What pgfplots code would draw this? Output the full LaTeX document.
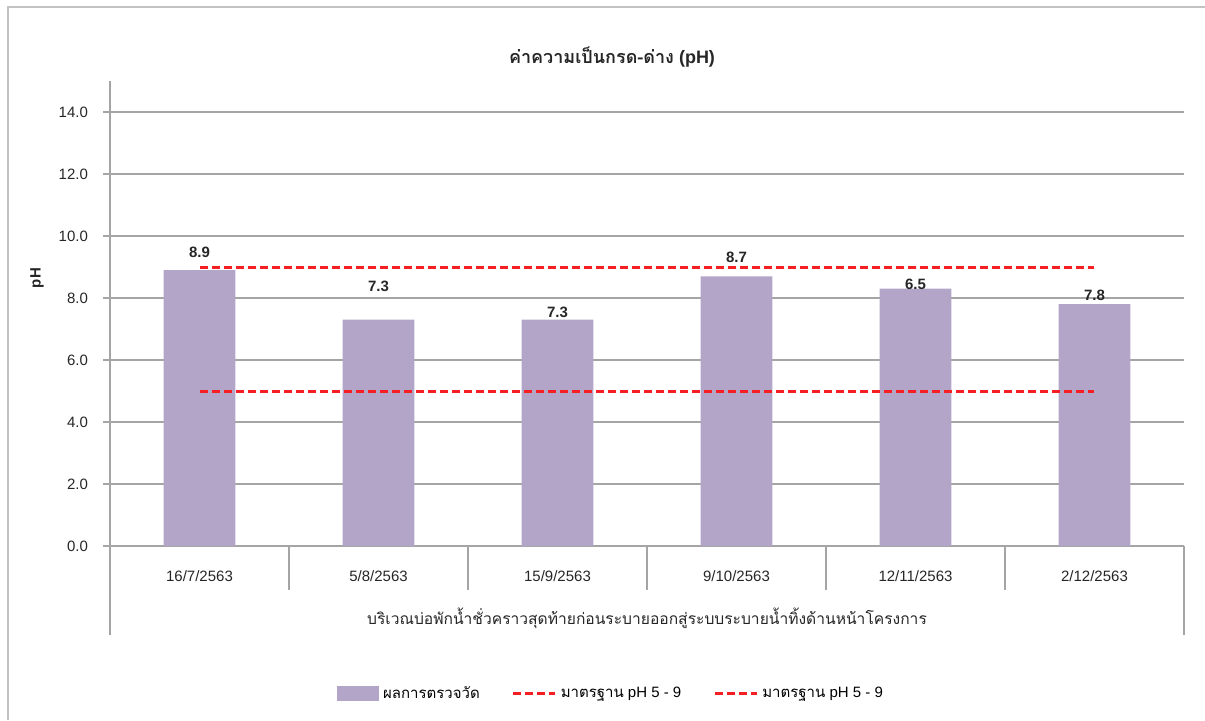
\documentclass[border=0pt]{standalone}
\usepackage{fontspec}
\setmainfont{Liberation Sans}
\newfontfamily\thai[Script=Thai]{Loma}
\usepackage{pgfplots}
\pgfplotsset{compat=1.18}

\definecolor{barcol}{RGB}{179,165,200}
\definecolor{stdred}{RGB}{245,30,35}
\definecolor{gridcol}{RGB}{165,165,165}
\definecolor{framecol}{RGB}{195,195,195}

\tikzset{stdline/.style={stdred, line width=1.5pt, dash pattern=on 4pt off 2pt}}

\begin{document}
\begin{tikzpicture}
% page = 1205 x 720 px, 0.5pt per px
\useasboundingbox (0,0) rectangle (602.5pt,360pt);
\draw[framecol, line width=1pt] (4pt,0) -- (4pt,356.5pt) -- (603pt,356.5pt);

\begin{axis}[
  at={(55pt,87pt)}, anchor=south west,
  scale only axis, width=537pt, height=232.5pt,
  xmin=-0.5, xmax=5.5, ymin=0, ymax=15,
  axis lines*=left,
  axis line style={gridcol, line width=0.7pt},
  xtick={0,...,5},
  xticklabels={16/7/2563,5/8/2563,15/9/2563,9/10/2563,12/11/2563,2/12/2563},
  ytick={0,2,...,14},
  major x tick style={draw=none},
  major y tick style={gridcol, line width=0.7pt},
  tick align=outside, major tick length=3.5pt,
  ymajorgrids, grid style={gridcol, line width=0.7pt},
  /pgf/number format/assume math mode=true,
  yticklabel style={/pgf/number format/fixed, /pgf/number format/fixed zerofill,
    /pgf/number format/precision=1, xshift=-4pt},
  tick label style={font=\fontsize{7.5}{9}\selectfont, text=black!85},
  xticklabel style={yshift=-5.5pt},
  clip=false,
  legend columns=3,
  legend style={draw=none, fill=none, at={(0.4674,-0.318)}, anchor=center,
    font=\fontsize{7.5}{9}\selectfont,
    /tikz/every even column/.append style={column sep=14pt}},
  legend cell align=left,
]
\addplot[ybar, bar width=0.4, fill=barcol, draw=none,
  legend image code/.code={\fill[barcol] (0pt,-3.75pt) rectangle (21pt,3.75pt);}]
  coordinates {(0,8.9) (1,7.3) (2,7.3) (3,8.7) (4,8.3) (5,7.8)};
\addlegendentry{\thai ผลการตรวจวัด}

\addplot[stdline,
  legend image code/.code={\draw[stdline] (0pt,0pt) -- (21pt,0pt);}]
  coordinates {(0,9) (1,9) (2,9) (3,9) (4,9) (5,9)};
\addlegendentry{{\thai มาตรฐาน} pH 5 - 9}

\addplot[stdline,
  legend image code/.code={\draw[stdline] (0pt,0pt) -- (21pt,0pt);}]
  coordinates {(0,5) (1,5) (2,5) (3,5) (4,5) (5,5)};
\addlegendentry{{\thai มาตรฐาน} pH 5 - 9}

% value labels as printed on the chart
\addplot[draw=none, forget plot, nodes near coords, point meta=explicit symbolic,
  nodes near coords style={anchor=center, font=\fontsize{7.5}{9}\selectfont\bfseries, text=black!85}]
  coordinates {(0,9.46)[8.9] (1,8.38)[7.3] (2,7.53)[7.3] (3,9.32)[8.7] (4,8.45)[6.5] (5,8.08)[7.8]};

% category separators below the axis
\draw[gridcol, line width=0.7pt] (axis cs:-0.5,0) -- ++(0pt,-44.5pt);
\draw[gridcol, line width=0.7pt] (axis cs:5.5,0) -- ++(0pt,-44.5pt);
\draw[gridcol, line width=0.7pt] (axis cs:0.5,0) -- ++(0pt,-22pt);
\draw[gridcol, line width=0.7pt] (axis cs:1.5,0) -- ++(0pt,-22pt);
\draw[gridcol, line width=0.7pt] (axis cs:2.5,0) -- ++(0pt,-22pt);
\draw[gridcol, line width=0.7pt] (axis cs:3.5,0) -- ++(0pt,-22pt);
\draw[gridcol, line width=0.7pt] (axis cs:4.5,0) -- ++(0pt,-22pt);
\node[font=\fontsize{7.8}{9}\selectfont\thai, text=black!85] at ([yshift=-36pt]axis cs:2.5,0)
  {บริเวณบ่อพักน้ำชั่วคราวสุดท้ายก่อนระบายออกสู่ระบบระบายน้ำทิ้งด้านหน้าโครงการ};
\end{axis}

\node[font=\fontsize{9}{11}\selectfont\bfseries, text=black!85] at (306pt,331.5pt)
  {{\thai ค่าความเป็นกรด-ด่าง} (pH)};
\node[font=\fontsize{7.5}{9}\selectfont\bfseries, rotate=90, text=black!85] at (18.5pt,221pt) {pH};
\end{tikzpicture}
\end{document}
